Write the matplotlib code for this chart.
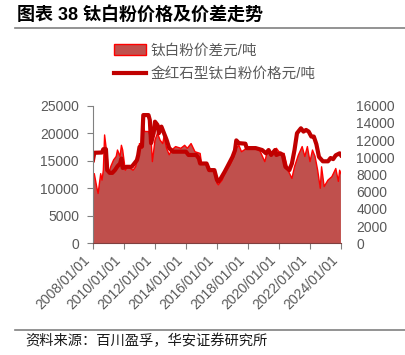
import matplotlib
matplotlib.use('Agg')
import matplotlib.pyplot as plt
import matplotlib.dates as mdates
from matplotlib.lines import Line2D
import pandas as pd

plt.rcParams['font.family'] = ['Liberation Sans', 'Noto Sans CJK SC']

title = '图表 38 钛白粉价格及价差走势'
source = '资料来源：百川盈孚，华安证券研究所'
spread_label = '钛白粉价差元/吨'
price_label = '金红石型钛白粉价格元/吨'

# rutile price, left axis (yuan/t)
price_dates = ['2008-01', '2008-02', '2008-08', '2008-09', '2008-11', '2008-12',
               '2009-02', '2009-04', '2009-06', '2009-08', '2009-10', '2009-11',
               '2009-12', '2010-03', '2010-07', '2010-09', '2010-11', '2010-12',
               '2011-01', '2011-03', '2011-04', '2011-08', '2011-09', '2011-10',
               '2011-12', '2012-01', '2012-03', '2012-04', '2012-06', '2012-08',
               '2012-10', '2012-12', '2013-03', '2014-01', '2014-03', '2014-09',
               '2014-11', '2014-12', '2015-05', '2015-07', '2015-11', '2016-01',
               '2016-02', '2016-04', '2016-07', '2016-09', '2016-11', '2017-01',
               '2017-03', '2017-04', '2017-06', '2017-11', '2017-12', '2018-07',
               '2018-12', '2019-03', '2019-05', '2019-07', '2019-10', '2019-11',
               '2020-02', '2020-04', '2020-06', '2020-09', '2020-11', '2021-01',
               '2021-03', '2021-06', '2021-08', '2021-10', '2021-12', '2022-02',
               '2022-04', '2022-06', '2022-08', '2022-11', '2023-03', '2023-05',
               '2023-07', '2023-09', '2023-12', '2024-01']
price = [15100, 16450, 16500, 17100, 17100, 13300,
         12800, 12800, 13300, 14000, 14500, 15400,
         13700, 13900, 13900, 14500, 15100, 16000,
         17500, 17600, 23300, 23300, 22400, 18200,
         20000, 22100, 21500, 20000, 21200, 20000,
         18800, 17300, 16650, 16650, 16050, 16050,
         15400, 14500, 14500, 13300, 13300, 11500,
         11200, 11800, 13000, 13900, 14800, 15700,
         16900, 18700, 18200, 18100, 17300, 17300,
         16950, 16350, 16950, 16050, 16950, 16050,
         16350, 16050, 13900, 13300, 14500, 16950,
         20000, 20900, 20300, 20600, 20300, 19400,
         19400, 18000, 15700, 14900, 14900, 15500,
         15300, 16000, 16350, 16000]

# price spread, right axis (yuan/t)
spread_dates = ['2008-01', '2008-02', '2008-04', '2008-05', '2008-07', '2008-08',
                '2008-09', '2008-10', '2008-12', '2009-01', '2009-03', '2009-05',
                '2009-07', '2009-08', '2009-10', '2009-11', '2009-12', '2010-02',
                '2010-04', '2010-08', '2010-10', '2010-11', '2010-12', '2011-01',
                '2011-03', '2011-04', '2011-05', '2011-08', '2011-10', '2011-11',
                '2012-01', '2012-03', '2012-05', '2012-07', '2012-08', '2012-10',
                '2012-12', '2013-02', '2013-05', '2013-09', '2013-12', '2014-02',
                '2014-05', '2014-08', '2014-12', '2015-01', '2015-05', '2015-08',
                '2015-11', '2016-01', '2016-02', '2016-05', '2016-08', '2016-11',
                '2017-02', '2017-04', '2017-06', '2017-08', '2017-12', '2018-06',
                '2018-10', '2019-02', '2019-04', '2019-08', '2019-11', '2020-02',
                '2020-05', '2020-08', '2020-11', '2021-01', '2021-04', '2021-07',
                '2021-09', '2021-11', '2022-01', '2022-03', '2022-05', '2022-07',
                '2022-09', '2022-10', '2022-12', '2023-03', '2023-06', '2023-09',
                '2023-11', '2023-12', '2024-01']
spread = [7900, 8100, 6500, 5800, 8100, 7350,
          8500, 12600, 10100, 8100, 9000, 9700,
          10100, 10850, 10100, 11400, 10850, 8500,
          8900, 8500, 8900, 9500, 10100, 11600,
          11050, 13950, 13000, 13000, 12200, 9500,
          12000, 12800, 12000, 11600, 12400, 11050,
          10300, 10850, 11250, 11050, 11400, 11050,
          11600, 10650, 10450, 9300, 9300, 8500,
          8500, 7000, 6800, 7350, 8500, 9100,
          10100, 11050, 11400, 10650, 11050, 11050,
          10850, 9500, 10650, 10450, 11050, 10450,
          10450, 8500, 7550, 8900, 10250, 11250,
          10100, 11250, 9500, 10850, 10100, 8500,
          6400, 8900, 6600, 7350, 7750, 8700,
          7200, 8500, 8100]

tick_years = list(range(2008, 2025, 2))

pd_price = pd.to_datetime(price_dates)
pd_spread = pd.to_datetime(spread_dates)

fig = plt.figure(figsize=(4.06, 3.55), dpi=100)
ax = fig.add_axes([0.229, 0.3146, 0.6108, 0.3876])
ax2 = ax.twinx()
ax.set_zorder(ax2.get_zorder() + 1)
ax.patch.set_visible(False)

ax2.fill_between(pd_spread, spread, 0, facecolor='#C0504D', edgecolor='none')
ax2.plot(pd_spread, spread, color='#FF0000', lw=1)
ax.plot(pd_price, price, color='#C00000', lw=3, solid_joinstyle='round')

ax.set_xlim(pd.Timestamp('2008-01-01'), pd.Timestamp('2024-01-01'))
ax.set_ylim(0, 25000)
ax2.set_ylim(0, 16000)
ax.set_yticks(range(0, 25001, 5000))
ax2.set_yticks(range(0, 16001, 2000))
ax.set_xticks([pd.Timestamp(f'{y}-01-01') for y in tick_years])
ax.xaxis.set_major_formatter(mdates.DateFormatter('%Y/%m/%d'))

gray = '#808080'
label_color = '#595959'
for s in ['top', 'right']:
    ax.spines[s].set_visible(False)
for s in ['top', 'right', 'left', 'bottom']:
    ax2.spines[s].set_visible(False)
ax.spines['left'].set_color(gray)
ax.spines['bottom'].set_color('#7F3F3F')
ax.tick_params(axis='y', colors=gray, labelcolor=label_color, labelsize=10,
               length=4, pad=6)
ax.tick_params(axis='x', colors=gray, labelcolor=label_color, labelsize=10,
               length=4, pad=3)
ax2.tick_params(axis='y', labelcolor=label_color, labelsize=10, length=0, pad=11)
for lab in ax.get_xticklabels():
    lab.set_rotation(45)
    lab.set_ha('right')

# legend
handles = [plt.Rectangle((0, 0), 1, 1, facecolor='#C0504D', edgecolor='#FF0000', lw=1),
           Line2D([], [], color='#C00000', lw=3)]
fig.legend(handles, [spread_label, price_label], loc='upper left',
           bbox_to_anchor=(0.28, 0.877), frameon=False, fontsize=10.5,
           handlelength=2.2, handletextpad=0.3, labelspacing=0.65,
           borderpad=0, borderaxespad=0, labelcolor=label_color)

fig.text(0.042, 0.957, title, fontsize=13, fontweight='bold', va='center',
         ha='left', color='black')
fig.add_artist(Line2D([0.037, 1.0], [0.921, 0.921], color=gray, lw=1.2,
                      transform=fig.transFigure))
fig.add_artist(Line2D([0.037, 1.0], [0.07, 0.07], color=gray, lw=1.2,
                      transform=fig.transFigure))
fig.text(0.062, 0.04, source, fontsize=10.3, va='center', ha='left', color='#1a1a1a')

fig.savefig('out.png', dpi=100)
